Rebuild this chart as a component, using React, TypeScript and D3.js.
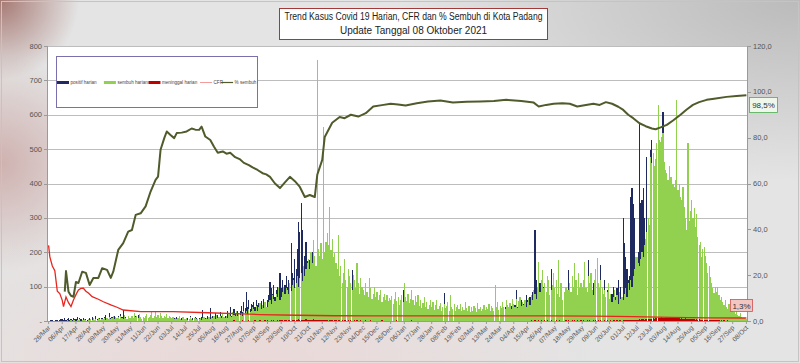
import React, { useEffect } from 'react';
import * as d3 from 'd3';

const xTickLabels = [
  '26/Mar','06/Apr','17/Apr','28/Apr','09/May','20/May','31/May','11/Jun','22/Jun','03/Jul','14/Jul','25/Jul',
  '05/Aug','16/Aug','27/Aug','07/Sep','18/Sep','29/Sep','10/Oct','21/Oct','01/Nov','12/Nov','23/Nov','04/Dec',
  '15/Dec','26/Dec','06/Jan','17/Jan','28/Jan','08/Feb','19/Feb','02/Mar','13/Mar','24/Mar','04/Apr','15/Apr',
  '26/Apr','07/May','18/May','29/May','09/Jun','20/Jun','01/Jul','12/Jul','23/Jul','03/Aug','14/Aug','25/Aug',
  '05/Sep','16/Sep','27/Sep','08/Oct'
];

// daily new positive cases (26 Mar 2020 .. 08 Oct 2021)
const positif = [
  1,0,2,3,0,1,4,2,0,3,5,
  6,3,8,2,5,9,4,7,3,10,6,
  5,12,4,8,6,3,9,5,7,2,6,
  8,4,11,6,3,14,7,5,9,4,10,
  6,12,18,9,5,22,8,11,7,15,6,
  9,14,6,20,11,32,8,13,7,16,10,
  7,12,5,9,14,6,18,8,11,4,9,
  5,8,3,10,6,12,4,7,9,3,6,
  4,7,2,9,5,3,8,6,2,5,7,
  3,6,9,4,12,5,7,3,8,10,4,
  6,3,10,7,14,5,9,4,11,8,6,
  9,5,12,32,7,10,6,14,8,38,11,
  15,9,22,12,18,8,25,14,20,11,16,
  12,28,18,40,15,24,35,20,14,30,22,
  30,45,25,55,38,85,42,60,35,50,48,
  55,40,62,48,52,38,58,45,65,50,42,
  60,75,113,95,80,105,70,90,100,85,140,
  95,120,88,105,130,98,119,110,227,140,125,
  180,150,210,288,260,343,265,157,190,230,175,
  140,177,160,200,145,170,130,150,120,140,110,
  100,125,90,110,80,95,120,85,100,75,90,
  85,70,95,60,80,75,90,65,55,70,60,
  70,55,148,60,50,65,45,58,52,40,60,
  45,50,38,55,42,48,35,52,40,30,45,
  40,35,52,30,45,38,42,28,36,44,32,
  30,42,25,38,55,33,28,46,35,40,90,
  35,28,40,22,38,30,45,26,33,24,36,
  25,32,20,28,35,18,30,24,22,27,19,
  22,18,26,15,30,20,24,17,28,21,81,
  25,20,30,18,22,35,19,26,28,15,24,
  20,16,24,41,18,22,15,27,19,23,17,
  22,18,35,20,25,16,28,21,30,19,24,
  20,28,18,24,30,17,22,35,26,19,25,
  28,22,32,25,40,30,24,35,28,45,30,
  35,48,90,40,55,38,62,45,50,42,75,
  60,52,70,58,85,65,265,120,95,80,110,
  90,75,100,85,65,95,80,70,150,100,60,
  55,70,48,65,40,50,35,0,45,60,52,
  148,90,75,110,65,160,85,70,95,60,80,
  70,55,95,60,80,177,65,50,85,110,60,
  75,60,95,70,163,85,55,120,65,90,50,
  60,45,80,100,55,70,95,120,85,100,65,
  300,227,186,150,119,130,360,386,340,300,130,
  150,200,575,343,352,386,300,206,477,256,230,
  497,526,420,390,360,517,400,380,350,340,607,
  390,320,300,260,240,210,190,170,160,150,140,
  130,120,110,100,95,90,85,80,75,70,65,
  60,55,50,45,42,40,38,35,32,30,28,
  26,24,22,20,19,18,17,16,15,14,13,
  12,12,11,10,10,9,9,8,8,7,7,
  7,6,6,5,5,4,5,4,4,3,4,
  3
];

// daily recoveries
const sembuh = [
  0,0,0,0,0,0,0,1,0,0,0,
  0,0,1,0,2,0,1,3,0,2,4,
  1,3,2,5,0,4,2,6,3,1,5,
  3,6,2,8,4,5,3,9,6,2,7,
  5,8,4,10,6,12,7,9,14,5,11,
  8,12,5,15,9,6,18,10,7,14,8,
  10,16,8,22,12,15,9,20,13,7,11,
  9,14,20,8,12,18,25,10,15,28,12,
  18,10,22,14,8,16,12,20,9,15,11,
  8,12,6,10,5,9,14,7,4,11,6,
  5,9,4,7,12,6,3,8,10,5,7,
  6,10,4,8,12,5,9,7,11,6,13,
  9,14,7,18,10,12,15,8,20,13,10,
  14,10,20,16,12,25,18,14,28,16,20,
  18,24,15,30,22,28,20,35,25,30,40,
  35,28,45,30,40,52,35,48,38,55,42,
  40,55,60,50,75,65,58,80,70,95,62,
  70,85,100,78,95,90,80,110,88,105,120,
  95,110,130,100,125,140,115,160,130,150,170,
  180,150,200,170,235,190,160,759,210,190,227,
  180,564,200,230,256,220,331,206,240,185,197,
  170,150,250,130,160,110,140,180,120,100,150,
  130,110,90,135,120,95,168,110,80,125,100,
  90,75,110,85,70,125,95,65,80,100,70,
  85,60,75,90,55,70,80,62,75,58,68,
  60,72,50,65,85,58,70,48,62,75,55,
  110,70,58,80,52,65,90,60,48,72,55,
  75,45,60,38,52,70,42,55,35,48,62,
  40,55,32,48,60,35,45,52,30,42,50,
  38,45,55,30,75,42,35,50,28,40,46,
  35,50,28,42,32,55,38,30,45,26,40,
  30,45,38,25,52,34,42,28,36,48,32,
  40,35,50,30,45,38,28,105,42,55,33,
  45,38,55,42,35,60,48,40,52,36,65,
  50,42,65,38,58,70,45,55,48,62,40,
  55,68,48,75,60,90,80,65,100,171,85,
  120,148,95,110,85,130,120,75,90,105,140,
  95,120,80,177,70,110,60,0,85,100,90,
  90,110,85,130,100,168,120,75,140,95,110,
  100,120,171,95,85,130,110,140,90,75,120,
  150,183,110,95,120,100,80,90,70,85,110,
  65,80,55,70,90,60,75,50,85,65,70,
  60,80,95,70,110,90,120,100,130,150,186,
  186,170,160,180,200,186,220,240,260,300,280,
  477,460,488,450,470,517,628,526,520,535,546,
  462,440,430,410,450,420,419,400,390,410,642,
  380,400,360,352,390,331,300,265,517,290,320,
  352,300,330,273,310,244,220,230,186,210,215,
  190,170,140,160,128,110,95,81,100,85,99,
  75,61,70,55,48,62,40,35,50,30,28,
  32,25,20,28,18,15,22,12,10,8,5,
  6
];

// daily deaths
const meninggal = [
  1,0,0,1,0,0,1,0,0,0,1,
  0,1,0,0,0,1,0,0,1,0,0,
  0,0,1,0,0,0,0,1,0,0,0,
  1,0,0,0,0,1,0,0,0,0,1,
  0,0,0,1,0,0,0,0,1,0,0,
  0,1,0,0,0,0,0,0,0,1,0,
  0,0,0,0,1,0,0,0,0,0,0,
  0,0,0,0,0,0,1,0,0,0,0,
  0,0,0,0,0,0,0,0,1,0,0,
  0,0,0,1,0,0,0,0,0,0,0,
  0,0,0,0,0,1,0,0,0,0,0,
  0,0,1,0,0,0,0,1,0,0,0,
  0,1,0,0,1,0,0,0,1,0,0,
  1,0,0,1,0,0,2,0,1,0,0,
  1,0,2,0,1,1,0,2,0,1,0,
  1,2,0,1,0,2,1,0,1,3,1,
  2,1,0,3,1,2,0,1,2,1,3,
  2,3,1,2,4,1,2,3,1,2,4,
  3,2,4,5,2,3,4,2,3,5,2,
  3,4,2,3,5,2,4,3,2,3,4,
  2,3,4,2,3,1,2,3,2,1,2,
  2,1,3,2,1,2,1,2,3,1,2,
  1,2,1,1,2,1,2,1,1,2,1,
  1,1,2,1,0,1,2,1,1,0,1,
  1,0,1,1,2,1,0,1,1,0,1,
  1,1,0,1,1,2,1,0,1,1,0,
  1,0,1,1,0,1,2,1,0,1,1,
  0,1,1,0,1,0,1,1,0,1,0,
  1,0,1,0,1,1,0,1,0,0,1,
  0,1,0,1,0,0,1,0,1,0,0,
  1,0,0,1,0,1,0,0,1,0,0,
  0,1,0,0,1,0,0,1,0,0,1,
  0,0,1,0,0,1,0,0,1,0,0,
  1,0,0,1,0,0,1,0,1,0,1,
  0,1,1,0,1,0,1,1,0,1,1,
  1,1,0,2,1,1,2,1,1,2,1,
  2,1,1,2,1,2,1,1,2,1,1,
  1,2,1,1,2,1,1,0,1,2,1,
  2,1,1,2,1,2,1,2,1,1,2,
  1,2,1,1,2,1,2,1,1,2,1,
  2,1,2,1,2,1,1,2,1,2,1,
  1,2,1,2,2,1,2,1,2,2,1,
  2,3,2,3,2,3,4,3,3,4,3,
  4,3,5,4,6,5,4,6,5,7,6,
  7,6,8,7,9,8,10,8,9,11,9,
  10,9,11,8,10,12,9,11,8,10,9,
  8,9,7,8,6,7,8,6,7,5,6,
  6,5,6,4,5,4,5,3,4,3,4,
  3,4,3,2,3,2,3,2,2,3,2,
  2,1,2,1,2,1,1,2,1,1,1,
  1,1,0,1,1,0,1,0,1,0,1,
  0
];

// CFR (%) read at day index
const cfrDay = [0,1,3,5,7,9,11,12,14,16,18,20,22,24,26,28,30,32,35,40,44,50,55,60,74,100,128,150,170,200,230,260,300,350,400,440,470,500,530,561];
const cfrPct = [33,28,24,22,13,12,9,6.3,10.5,8,6.3,9.2,11.5,13.5,14.2,14.3,13,12.2,10.6,9.5,8.4,7,6,4.8,4.1,4.1,3.6,3.2,2.8,2.5,2.3,2.2,2.2,2.2,2.2,2.1,1.9,1.6,1.4,1.3];

// % sembuh (%) read at day index
const sembuhDay = [13,14,16,18,20,22,24,27,30,33,36,40,43,47,50,52,56,60,64,67,70,74,78,82,86,88,90,93,95,98,101,103,107,111,115,118,121,123,126,130,133,136,140,143,146,150,154,157,161,164,168,172,175,178,182,186,190,194,198,202,206,210,214,216,220,222,228,234,238,243,249,255,261,268,275,281,287,296,305,315,325,336,347,358,368,380,390,394,400,406,413,419,425,432,438,443,448,453,458,462,466,470,475,480,485,488,492,497,502,508,513,518,523,529,535,545,553,561];
const sembuhPct = [12.8,21.8,12.8,11,10.6,17,16.6,21.5,21,15.7,18.8,18.8,23,22.3,18.8,21.5,31,34,39,39.7,46.3,47,50,56.5,61.6,63,74.7,79.8,82.7,81.2,79.8,82,82.2,82.7,84,83.5,83.4,84.8,80.5,79,76,73.4,74,73,73.4,71.5,70.5,69,68,67,65.9,64.5,64,62.9,60,58,60.5,62.9,61,58.5,54.1,55,54.1,63.8,70.3,80.3,86.5,89,88.5,90,89.2,90.7,93.6,94.2,94.8,94.5,94,95,95.8,96.2,95.3,95.7,95.8,96,96.5,96,95.3,93.6,94.3,94.8,95,94.8,93.6,94.3,94.8,94.3,95.5,94.8,93.5,92.1,90,88.5,86.3,85,84,83.7,84.5,85.6,87.5,90,92.3,94.3,95.5,96.5,97,97.8,98.2,98.5];

const leftTicks = [0,100,200,300,400,500,600,700,800];
const rightTicks = [0,20,40,60,80,100,120];
const titleLines = ['Trend Kasus Covid 19 Harian, CFR dan % Sembuh di Kota Padang', 'Update Tanggal  08 Oktober 2021'];
const legendItems = [
  { label: 'positif harian', kind: 'bar', color: '#1f2a60' },
  { label: 'sembuh harian', kind: 'bar', color: '#92d050' },
  { label: 'meninggal harian', kind: 'bar', color: '#c00000' },
  { label: 'CFR', kind: 'line', color: '#f08080' },
  { label: '% sembuh', kind: 'line', color: '#4f5b2b' },
];

const FONT = '"Liberation Sans", Arial, sans-serif';

export default function App() {
  useEffect(() => { document.body.style.margin = '0'; }, []);
  const N = positif.length;
  const L = 48, R = 747, T = 46, B = 321;
  const x = d3.scaleBand<number>().domain(d3.range(N)).range([L, R]).paddingInner(0.05);
  const bw = x.bandwidth();
  const cx = (d: number) => (x(d) ?? 0) + bw / 2;
  const yL = d3.scaleLinear().domain([0, 800]).range([B, T]);
  const yR = d3.scaleLinear().domain([0, 120]).range([B, T]);
  const lineR = d3.line<[number, number]>().x(d => cx(d[0])).y(d => yR(d[1]));
  const cfrPts: [number, number][] = cfrDay.map((d, i) => [d, cfrPct[i]]);
  const semPts: [number, number][] = sembuhDay.map((d, i) => [d, sembuhPct[i]]);
  const lastSem = semPts[semPts.length - 1];
  const lastCfr = cfrPts[cfrPts.length - 1];

  let lx = 57;
  const legendNodes: any[] = [];
  legendItems.forEach((it, i) => {
    if (it.kind === 'bar') {
      legendNodes.push(<rect key={'r' + i} x={lx} y={81} width={12} height={3} fill={it.color} />);
    } else {
      legendNodes.push(<line key={'l' + i} x1={lx} x2={lx + 12} y1={82.5} y2={82.5} stroke={it.color} strokeWidth={it.label === 'CFR' ? 0.8 : 1.2} />);
    }
    legendNodes.push(<text key={'t' + i} x={lx + 13.5} y={84.3} fontSize={4.6} fill="#444">{it.label}</text>);
    const wText = it.label.length * 2.35;
    lx += 13.5 + wText + 0.5;
  });

  return (
    <div style={{ position: 'absolute', left: 0, top: 0 }}>
      <svg width={800} height={363} style={{ display: 'block', fontFamily: FONT }}>
        <defs>
          <radialGradient id="gLeft" cx="0" cy="0.45" r="0.3" gradientTransform="scale(0.45,1)">
            <stop offset="0" stopColor="#c0908c" stopOpacity="0.6" />
            <stop offset="1" stopColor="#c0908c" stopOpacity="0" />
          </radialGradient>
          <radialGradient id="gTL" cx="0" cy="0" r="0.22" gradientTransform="scale(0.45,1)">
            <stop offset="0" stopColor="#8b4a42" stopOpacity="0.7" />
            <stop offset="1" stopColor="#8b4a42" stopOpacity="0" />
          </radialGradient>
          <radialGradient id="gTR" cx="1" cy="0" r="0.5">
            <stop offset="0" stopColor="#a9a9a9" stopOpacity="0.7" />
            <stop offset="1" stopColor="#a9a9a9" stopOpacity="0" />
          </radialGradient>
          <radialGradient id="gBot" cx="0.3" cy="1" r="0.45">
            <stop offset="0" stopColor="#ecd3d1" stopOpacity="0.7" />
            <stop offset="1" stopColor="#ecd3d1" stopOpacity="0" />
          </radialGradient>
        </defs>
        <rect x={0} y={0} width={800} height={363} fill="#e4e4e4" />
        <rect x={0} y={0} width={800} height={363} fill="url(#gLeft)" />
        <rect x={0} y={0} width={800} height={363} fill="url(#gTL)" />
        <rect x={0} y={0} width={800} height={363} fill="url(#gTR)" />
        <rect x={0} y={0} width={800} height={363} fill="url(#gBot)" />
        <rect x={1.5} y={1.5} width={797} height={360} fill="none" stroke="#c4c4c4" />

        <rect x={L} y={T} width={R - L} height={B - T} fill="#ffffff" />
        {leftTicks.filter(t => t > 0).map(t => (
          <line key={'g' + t} x1={L} x2={R} y1={Math.round(yL(t)) + 0.5} y2={Math.round(yL(t)) + 0.5} stroke="#bdbdbd" strokeWidth={1} />
        ))}

        <g shapeRendering="crispEdges">
          {positif.map((v, i) => (
            <rect key={'p' + i} x={x(i)} y={yL(v)} width={bw} height={B - yL(v)} fill="#1f2a60" />
          ))}
        </g>
        <g shapeRendering="crispEdges">
          {sembuh.map((v, i) => (
            <rect key={'s' + i} x={x(i)} y={yL(v)} width={bw} height={B - yL(v)} fill="#92d050" />
          ))}
        </g>
        <g shapeRendering="crispEdges">
          {meninggal.map((v, i) => (
            <rect key={'m' + i} x={x(i)} y={yL(v)} width={bw} height={B - yL(v)} fill="#c00000" />
          ))}
        </g>

        <path d={lineR(cfrPts) || ''} fill="none" stroke="#e8261e" strokeWidth={1.3} />
        <path d={lineR(semPts) || ''} fill="none" stroke="#4f5b2b" strokeWidth={2} strokeLinejoin="round" />

        <line x1={L - 0.5} x2={L - 0.5} y1={T} y2={B + 1} stroke="#9a9a9a" />
        <line x1={R + 0.5} x2={R + 0.5} y1={T} y2={B + 1} stroke="#9a9a9a" />
        <line x1={L} x2={R} y1={B + 0.5} y2={B + 0.5} stroke="#9a9a9a" />
        {leftTicks.map(t => (
          <g key={'lt' + t}>
            <line x1={L - 4} x2={L} y1={Math.round(yL(t)) + 0.5} y2={Math.round(yL(t)) + 0.5} stroke="#9a9a9a" />
            <text x={L - 6} y={yL(t) + 2.5} fontSize={7.5} textAnchor="end" fill="#555">{t === 0 ? '-' : String(t)}</text>
          </g>
        ))}
        {rightTicks.map(t => (
          <g key={'rt' + t}>
            <line x1={R} x2={R + 4} y1={Math.round(yR(t)) + 0.5} y2={Math.round(yR(t)) + 0.5} stroke="#9a9a9a" />
            <text x={R + 6} y={yR(t) + 2.5} fontSize={7.5} textAnchor="start" fill="#555">{t.toFixed(1).replace('.', ',')}</text>
          </g>
        ))}
        {xTickLabels.map((lab, i) => {
          const d = i * 11;
          const tx = cx(d);
          return (
            <g key={'xt' + i}>
              <line x1={tx} x2={tx} y1={B} y2={B + 3} stroke="#9a9a9a" />
              <text transform={`translate(${tx + 1},${B + 6}) rotate(-45)`} fontSize={6.6} textAnchor="end" dominantBaseline="middle" fill="#555">{lab}</text>
            </g>
          );
        })}

        <rect x={749.5} y={97.5} width={28} height={15} fill="#eef7ea" stroke="#4caf50" strokeWidth={0.8} />
        <text x={763.5} y={108.3} fontSize={8} textAnchor="middle" fill="#333">{lastSem[1].toFixed(1).replace('.', ',') + '%'}</text>
        <rect x={730.5} y={299.5} width={22} height={12} fill="#f4c6c2" stroke="#d05050" strokeWidth={0.8} />
        <text x={741.5} y={308.5} fontSize={8} textAnchor="middle" fill="#333">{lastCfr[1].toFixed(1).replace('.', ',') + '%'}</text>

        <rect x={56.5} y={56.5} width={201} height={51} fill="#ffffff" stroke="#7b6fae" strokeWidth={1} />
        {legendNodes}

        <rect x={279.5} y={8.5} width={268} height={31} fill="#ffffff" stroke="#a33a3a" strokeWidth={1} />
        <text x={413.5} y={20} fontSize={10} textAnchor="middle" fill="#222" textLength={258} lengthAdjust="spacingAndGlyphs">{titleLines[0]}</text>
        <text x={413.5} y={33.5} fontSize={10} textAnchor="middle" fill="#222">{titleLines[1]}</text>
      </svg>
    </div>
  );
}
